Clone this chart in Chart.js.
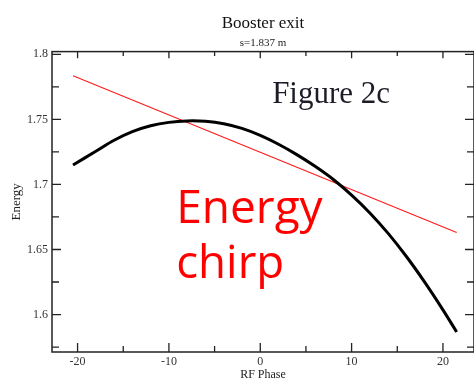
<!DOCTYPE html>
<html>
<head>
<meta charset="utf-8">
<script src="https://cdn.jsdelivr.net/npm/chart.js@4/dist/chart.umd.min.js"></script>
<style>
  html, body { margin: 0; padding: 0; background: #fff; }
  canvas { display: block; }
</style>
</head>
<body>
<canvas id="c" width="474" height="382"></canvas>
<script>
// Beam energy versus RF phase at the booster exit
const rfPhase    = [-20.5, -18, -16, -14, -12, -10, -8, -6, -4, -2, 0, 2, 4, 6, 8, 10, 12, 14, 16, 18, 20, 21.5];
const beamEnergy = [1.7150, 1.7255, 1.7340, 1.7406, 1.7451, 1.7477, 1.7488, 1.7485, 1.7467, 1.7431, 1.7377,
                    1.7309, 1.7229, 1.7139, 1.7038, 1.6918, 1.6781, 1.6624, 1.6446, 1.6249, 1.6036, 1.5866];

// Linear energy chirp
const chirpPhase  = [-20.5, 21.5];
const chirpEnergy = [1.7835, 1.6630];

// Axis ticks
const xMajorTicks = [-20, -10, 0, 10, 20];
const xMinorTicks = [-15, -5, 5, 15];
const yMajorTicks = [1.6, 1.65, 1.7, 1.75, 1.8];
const yMajorLabels = ['1.6', '1.65', '1.7', '1.75', '1.8'];
const yMinorTicks = [1.575, 1.625, 1.675, 1.725, 1.775];

const serif = '"Liberation Serif", "DejaVu Serif", serif';
const frameColor = '#222';

// Box frame with inward-pointing tick marks on all four sides
const framePlugin = {
  id: 'frame',
  afterDatasetsDraw(chart) {
    const { ctx, chartArea: a, scales: { x, y } } = chart;
    ctx.save();
    ctx.strokeStyle = frameColor;
    ctx.lineWidth = 1.5;
    ctx.strokeRect(a.left, a.top, a.right - a.left, a.bottom - a.top);
    ctx.lineWidth = 1.3;
    ctx.beginPath();
    const xt = (v, len) => {
      const px = x.getPixelForValue(v);
      ctx.moveTo(px, a.bottom); ctx.lineTo(px, a.bottom - len);
      ctx.moveTo(px, a.top); ctx.lineTo(px, a.top + len * 0.75);
    };
    const yt = (v, len) => {
      const py = y.getPixelForValue(v);
      ctx.moveTo(a.left, py); ctx.lineTo(a.left + len, py);
      ctx.moveTo(a.right, py); ctx.lineTo(a.right - len, py);
    };
    xMajorTicks.forEach(v => xt(v, 9));
    xMinorTicks.forEach(v => xt(v, 6));
    yMajorTicks.forEach(v => yt(v, 9));
    yMinorTicks.forEach(v => yt(v, 7));
    ctx.stroke();
    ctx.restore();
  }
};

// Text labels placed inside the plot
const notesPlugin = {
  id: 'notes',
  afterDraw(chart) {
    const { ctx, scales: { x, y } } = chart;
    ctx.save();
    ctx.textBaseline = 'alphabetic';
    ctx.textAlign = 'left';
    ctx.fillStyle = '#1c1c28';
    ctx.font = '31px ' + serif;
    ctx.fillText('Figure 2c', x.getPixelForValue(1.3), y.getPixelForValue(1.7628));
    ctx.fillStyle = '#ff0000';
    ctx.font = '46px "Open Sans", "DejaVu Sans", sans-serif';
    ctx.fillText('Energy', x.getPixelForValue(-9.2), y.getPixelForValue(1.6705), 150);
    ctx.fillText('chirp', x.getPixelForValue(-9.2), y.getPixelForValue(1.628), 108);
    ctx.restore();
  }
};

new Chart(document.getElementById('c'), {
  type: 'line',
  data: {
    datasets: [
      {
        label: 'Energy',
        data: rfPhase.map((p, i) => ({ x: p, y: beamEnergy[i] })),
        borderColor: '#000',
        borderWidth: 3,
        pointRadius: 0,
        tension: 0.35,
        fill: false
      },
      {
        label: 'Chirp',
        data: chirpPhase.map((p, i) => ({ x: p, y: chirpEnergy[i] })),
        borderColor: '#ff1a1a',
        borderWidth: 1.1,
        pointRadius: 0,
        fill: false
      }
    ]
  },
  options: {
    responsive: false,
    animation: false,
    devicePixelRatio: 1,
    layout: { padding: 0 },
    plugins: {
      legend: { display: false },
      tooltip: { enabled: false },
      title: {
        display: true,
        fullSize: false,
        text: 'Booster exit',
        color: '#111',
        font: { family: serif, size: 17, weight: 'normal' },
        padding: { top: 13, bottom: 3 }
      },
      subtitle: {
        display: true,
        fullSize: false,
        text: 's=1.837 m',
        color: '#222',
        font: { family: serif, size: 11, weight: 'normal' },
        padding: { top: 0, bottom: 2 }
      }
    },
    scales: {
      x: {
        type: 'linear',
        min: -22.8,
        max: 23.4,
        afterBuildTicks: s => { s.ticks = xMajorTicks.map(v => ({ value: v })); },
        afterFit: s => { s.height = 30; },
        grid: { display: false, drawTicks: false },
        border: { display: false },
        ticks: {
          padding: 3,
          color: '#333',
          font: { family: serif, size: 12 },
          maxRotation: 0,
          callback: v => String(v)
        },
        title: {
          display: true,
          text: 'RF Phase',
          color: '#222',
          font: { family: serif, size: 12 },
          padding: { top: 0, bottom: 0 }
        }
      },
      y: {
        type: 'linear',
        min: 1.5712,
        max: 1.8021,
        afterBuildTicks: s => { s.ticks = yMajorTicks.map(v => ({ value: v })); },
        afterFit: s => { s.width = 52; },
        grid: { display: false, drawTicks: false },
        border: { display: false },
        ticks: {
          padding: 4,
          color: '#333',
          font: { family: serif, size: 12 },
          callback: (v, i) => yMajorLabels[i]
        },
        title: {
          display: true,
          text: 'Energy',
          color: '#222',
          font: { family: serif, size: 13 },
          padding: { top: 9, bottom: 0 }
        }
      }
    }
  },
  plugins: [framePlugin, notesPlugin]
});
</script>
</body>
</html>
